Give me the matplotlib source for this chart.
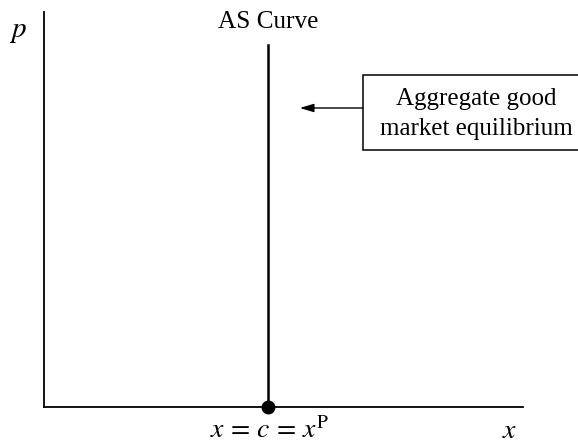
import matplotlib.pyplot as plt
from matplotlib.patches import Rectangle

plt.rcParams['font.family'] = ['Liberation Serif', 'DejaVu Serif']
plt.rcParams['mathtext.fontset'] = 'stix'

# Chart values (axes fractions)
x_eq = 0.468          # equilibrium output x = c = x^P
as_top = 0.916        # top of the vertical AS curve
arrow_tip_x = 0.534
arrow_y = 0.757
box_left_x = 0.666
box_lines = ["Aggregate good", "market equilibrium"]

W, H = 578, 443


def fx(px):
    return px / W


def fy(py):
    return 1 - py / H


fig = plt.figure(figsize=(5.78, 4.43), dpi=100)
ax = fig.add_axes([44 / W, 36 / H, 479 / W, 395 / H])
ax.set_xlim(0, 1)
ax.set_ylim(0, 1)
for s in ["top", "right"]:
    ax.spines[s].set_visible(False)
ax.spines["left"].set_linewidth(1.3)
ax.spines["bottom"].set_linewidth(1.3)
ax.set_xticks([])
ax.set_yticks([])

# AS curve
ax.plot([x_eq, x_eq], [0, as_top], color="black", lw=1.8)
ax.plot([x_eq], [0], "o", color="black", ms=9, clip_on=False, zorder=5)

fig.text(fx(268), fy(28), "AS Curve", ha="center", va="baseline", fontsize=18.2)

# axis labels
fig.text(fx(18), fy(37), r"$p$", ha="center", va="baseline", fontsize=21)
fig.text(fx(270), fy(438), r"$x\,=\,c\,=\,x^{\mathrm{P}}$", ha="center",
         va="baseline", fontsize=20)
fig.text(fx(510), fy(438), r"$x$", ha="center", va="baseline", fontsize=20)

# annotation box with arrow
fig.patches.append(Rectangle((fx(363), fy(150)), fx(230), 75 / H,
                             transform=fig.transFigure, fc="white",
                             ec="black", lw=1.1))
fig.text(fx(476), fy(105), box_lines[0], ha="center", va="baseline",
         fontsize=18)
fig.text(fx(476), fy(135), box_lines[1], ha="center", va="baseline",
         fontsize=18)
ax.annotate("", xy=(arrow_tip_x, arrow_y), xycoords="axes fraction",
            xytext=(box_left_x, arrow_y), textcoords="axes fraction",
            arrowprops=dict(arrowstyle="-|>,head_length=0.6,head_width=0.18",
                            color="black", lw=1,
                            mutation_scale=14, shrinkA=0, shrinkB=0),
            annotation_clip=False)

fig.savefig("out.png", dpi=100)
